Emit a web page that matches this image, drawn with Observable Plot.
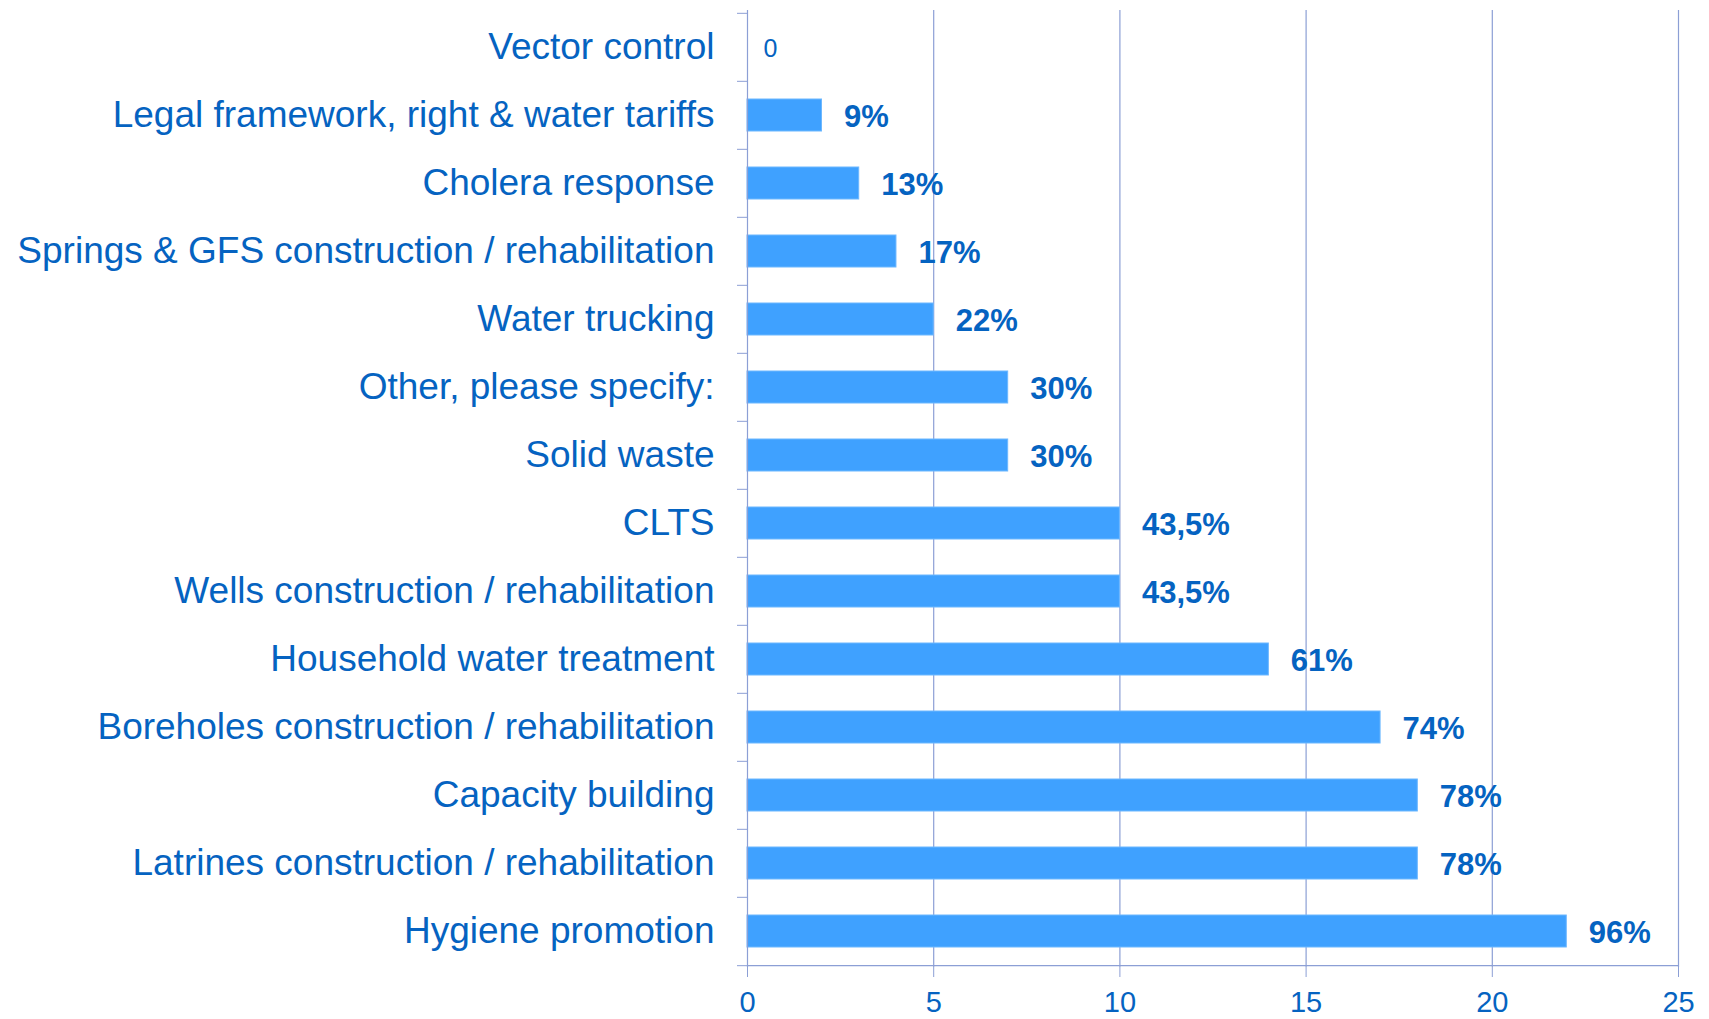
<!DOCTYPE html>
<html>
<head>
<meta charset="utf-8">
<script src="https://cdn.jsdelivr.net/npm/d3@7"></script>
<script src="https://cdn.jsdelivr.net/npm/@observablehq/plot@0.6"></script>
<style>
  html, body { margin: 0; padding: 0; background: #ffffff; }
</style>
</head>
<body>
<div id="chart"></div>
<script>
const categories = [
  "Vector control",
  "Legal framework, right & water tariffs",
  "Cholera response",
  "Springs & GFS construction / rehabilitation",
  "Water trucking",
  "Other, please specify:",
  "Solid waste",
  "CLTS",
  "Wells construction / rehabilitation",
  "Household water treatment",
  "Boreholes construction / rehabilitation",
  "Capacity building",
  "Latrines construction / rehabilitation",
  "Hygiene promotion"
];
const counts = [0, 2, 3, 4, 5, 7, 7, 10, 10, 14, 17, 18, 18, 22];
const labels = ["0", "9%", "13%", "17%", "22%", "30%", "30%", "43,5%", "43,5%", "61%", "74%", "78%", "78%", "96%"];
const xTicks = [0, 5, 10, 15, 20, 25];

const data = categories.map((c, i) => ({cat: c, count: counts[i], label: labels[i]}));

const W = 1709, H = 1019;
const mTop = 10, mBottom = 52, mLeft = 747, mRight = 31;
const step = (H - mTop - mBottom) / categories.length;

const textColor = "#0563c1";
const gridColor = "#8c9fd5";
const barColor = "#3fa1ff";

const chart = Plot.plot({
  width: W,
  height: H,
  marginTop: mTop,
  marginBottom: mBottom,
  marginLeft: mLeft,
  marginRight: mRight,
  style: {fontFamily: "'Liberation Sans', Arial, sans-serif", background: "#ffffff", color: textColor},
  x: {domain: [0, 25], label: null},
  y: {domain: categories, padding: 0, label: null},
  marks: [
    Plot.gridX(xTicks.slice(1), {stroke: gridColor, strokeOpacity: 1, strokeWidth: 1.2}),
    Plot.barX(data, {x: "count", y: "cat", fill: barColor, stroke: "#6db8ff", strokeWidth: 1, insetTop: 18, insetBottom: 18}),
    Plot.ruleX([0], {stroke: gridColor, strokeWidth: 1.2}),
    Plot.ruleY([categories[categories.length - 1]], {x1: 0, x2: 25, dy: step / 2, stroke: gridColor, strokeWidth: 1.2}),
    Plot.axisX({ticks: xTicks, tickSize: 10, tickPadding: 14, fontSize: 29, stroke: gridColor, fill: textColor, label: null}),
    Plot.axisY({tickSize: 0, tickPadding: 33, fontSize: 37, fill: textColor, label: null}),
    Plot.axisY({tickSize: 10, tickFormat: () => "", dy: -step / 2, stroke: gridColor, label: null}),
    Plot.axisY({ticks: [categories[categories.length - 1]], tickSize: 10, tickFormat: () => "", dy: step / 2, stroke: gridColor, label: null}),
    Plot.text(data.filter(d => d.count > 0), {x: "count", y: "cat", text: "label", dx: 22, dy: 2, textAnchor: "start", fontSize: 31, fontWeight: "bold", fill: textColor}),
    Plot.text(data.filter(d => d.count === 0), {x: "count", y: "cat", text: "label", dx: 16, dy: 1, textAnchor: "start", fontSize: 25, fill: textColor})
  ]
});

document.getElementById("chart").appendChild(chart);
</script>
</body>
</html>
